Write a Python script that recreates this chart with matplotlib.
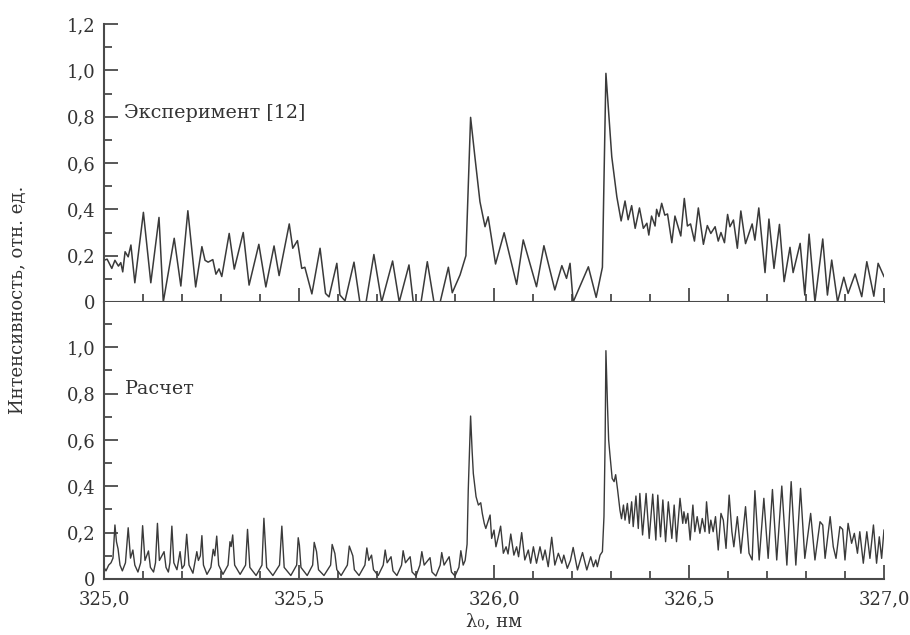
import matplotlib
matplotlib.use("Agg")
import matplotlib.pyplot as plt
from matplotlib.ticker import MultipleLocator, FuncFormatter

# Experimental spectrum (upper panel)
exp_x = [
    325.000, 325.008, 325.020, 325.028, 325.037, 325.043, 325.048, 325.054,
    325.062, 325.069, 325.079, 325.101, 325.120, 325.141, 325.152, 325.180,
    325.197, 325.215, 325.235, 325.251, 325.259, 325.267, 325.279, 325.287,
    325.295, 325.302, 325.321, 325.334, 325.357, 325.372, 325.397, 325.415,
    325.436, 325.449, 325.475, 325.484, 325.496, 325.507, 325.515, 325.533,
    325.554, 325.568, 325.577, 325.597, 325.605, 325.618, 325.641, 325.656,
    325.672, 325.692, 325.712, 325.740, 325.757, 325.782, 325.793, 325.813,
    325.829, 325.846, 325.862, 325.883, 325.893, 325.913, 325.928, 325.940,
    325.951, 325.964, 325.977, 325.985, 326.004, 326.026, 326.058, 326.075,
    326.109, 326.128, 326.156, 326.174, 326.186, 326.195, 326.203, 326.242,
    326.262, 326.278, 326.287, 326.302, 326.315, 326.326, 326.336, 326.344,
    326.353, 326.362, 326.373, 326.383, 326.392, 326.397, 326.404, 326.413,
    326.417, 326.423, 326.430, 326.438, 326.445, 326.456, 326.464, 326.479,
    326.488, 326.496, 326.504, 326.514, 326.524, 326.537, 326.547, 326.556,
    326.567, 326.575, 326.582, 326.591, 326.599, 326.605, 326.614, 326.624,
    326.633, 326.645, 326.662, 326.669, 326.679, 326.695, 326.705, 326.718,
    326.732, 326.744, 326.759, 326.767, 326.785, 326.797, 326.808, 326.823,
    326.843, 326.855, 326.866, 326.881, 326.897, 326.908, 326.926, 326.943,
    326.956, 326.974, 326.985, 327.000,
]
exp_y = [
    0.180, 0.185, 0.145, 0.180, 0.155, 0.170, 0.130, 0.217,
    0.195, 0.246, 0.083, 0.387, 0.083, 0.365, 0.000, 0.275,
    0.069, 0.394, 0.065, 0.239, 0.180, 0.172, 0.183, 0.120,
    0.143, 0.110, 0.296, 0.142, 0.300, 0.073, 0.249, 0.065,
    0.242, 0.114, 0.337, 0.232, 0.265, 0.145, 0.150, 0.035,
    0.232, 0.037, 0.022, 0.167, 0.030, 0.005, 0.172, 0.000,
    0.000, 0.205, 0.000, 0.177, 0.000, 0.160, 0.000, 0.000,
    0.174, 0.000, 0.000, 0.150, 0.040, 0.117, 0.200, 0.797,
    0.627, 0.433, 0.325, 0.368, 0.164, 0.299, 0.076, 0.268,
    0.066, 0.243, 0.052, 0.157, 0.102, 0.167, 0.000, 0.152,
    0.020, 0.150, 0.987, 0.627, 0.454, 0.350, 0.436, 0.355,
    0.416, 0.318, 0.406, 0.318, 0.340, 0.289, 0.371, 0.328,
    0.400, 0.369, 0.426, 0.375, 0.380, 0.256, 0.371, 0.285,
    0.447, 0.328, 0.337, 0.263, 0.406, 0.249, 0.330, 0.296,
    0.325, 0.263, 0.300, 0.256, 0.378, 0.325, 0.354, 0.232,
    0.393, 0.252, 0.337, 0.267, 0.406, 0.127, 0.358, 0.145,
    0.335, 0.088, 0.236, 0.127, 0.253, 0.030, 0.293, 0.000,
    0.272, 0.030, 0.181, 0.000, 0.107, 0.037, 0.121, 0.023,
    0.174, 0.025, 0.167, 0.110,
]

# Calculated spectrum (lower panel)
calc_x = [
    325.000, 325.005, 325.012, 325.018, 325.023, 325.028, 325.032, 325.036,
    325.041, 325.047, 325.055, 325.062, 325.068, 325.074, 325.079, 325.087,
    325.094, 325.099, 325.105, 325.114, 325.119, 325.127, 325.132, 325.137,
    325.142, 325.154, 325.159, 325.165, 325.169, 325.174, 325.179, 325.187,
    325.195, 325.200, 325.206, 325.212, 325.218, 325.228, 325.238, 325.242,
    325.247, 325.251, 325.255, 325.264, 325.274, 325.280, 325.284, 325.289,
    325.294, 325.305, 325.318, 325.323, 325.326, 325.330, 325.335, 325.349,
    325.363, 325.368, 325.374, 325.390, 325.405, 325.410, 325.417, 325.433,
    325.450, 325.456, 325.462, 325.479, 325.494, 325.498, 325.501, 325.505,
    325.521, 325.535, 325.539, 325.545, 325.550, 325.564, 325.581, 325.585,
    325.592, 325.597, 325.608, 325.624, 325.629, 325.638, 325.642, 325.654,
    325.669, 325.674, 325.679, 325.686, 325.691, 325.703, 325.716, 325.721,
    325.726, 325.736, 325.741, 325.751, 325.763, 325.767, 325.773, 325.785,
    325.790, 325.800, 325.810, 325.815, 325.821, 325.836, 325.841, 325.851,
    325.862, 325.866, 325.872, 325.885, 325.891, 325.900, 325.910, 325.915,
    325.921, 325.926, 325.931, 325.934, 325.940, 325.944, 325.947, 325.954,
    325.960, 325.966, 325.970, 325.975, 325.979, 325.985, 325.990, 325.994,
    326.000, 326.005, 326.011, 326.017, 326.024, 326.031, 326.036, 326.043,
    326.051, 326.058, 326.063, 326.071, 326.079, 326.088, 326.094, 326.101,
    326.109, 326.118, 326.125, 326.131, 326.139, 326.148, 326.156, 326.165,
    326.174, 326.179, 326.188, 326.196, 326.203, 326.214, 326.227, 326.238,
    326.248, 326.255, 326.261, 326.265, 326.272, 326.278, 326.282, 326.285,
    326.287, 326.291, 326.294, 326.297, 326.303, 326.308, 326.312, 326.317,
    326.321, 326.323, 326.327, 326.332, 326.336, 326.342, 326.347, 326.353,
    326.357, 326.364, 326.370, 326.374, 326.381, 326.390, 326.398, 326.407,
    326.415, 326.420, 326.427, 326.433, 326.440, 326.447, 326.456, 326.462,
    326.468, 326.477, 326.484, 326.487, 326.492, 326.497, 326.503, 326.510,
    326.515, 326.521, 326.528, 326.534, 326.541, 326.545, 326.552, 326.556,
    326.562, 326.568, 326.575, 326.582, 326.588, 326.595, 326.603, 326.610,
    326.615, 326.624, 326.633, 326.645, 326.654, 326.662, 326.669, 326.680,
    326.692, 326.703, 326.714, 326.725, 326.738, 326.751, 326.762, 326.774,
    326.786, 326.797, 326.812, 326.823, 326.836, 326.843, 326.849, 326.862,
    326.870, 326.877, 326.887, 326.894, 326.900, 326.908, 326.917, 326.924,
    326.932, 326.938, 326.947, 326.956, 326.964, 326.973, 326.981, 326.988,
    326.994, 327.000,
]
calc_y = [
    0.050, 0.035, 0.060, 0.070, 0.090, 0.233, 0.160, 0.130,
    0.060, 0.035, 0.070, 0.221, 0.090, 0.125, 0.060, 0.030,
    0.070, 0.230, 0.080, 0.121, 0.050, 0.030, 0.070, 0.240,
    0.080, 0.118, 0.050, 0.030, 0.070, 0.228, 0.070, 0.040,
    0.118, 0.045, 0.060, 0.193, 0.060, 0.025, 0.118, 0.080,
    0.100, 0.187, 0.060, 0.020, 0.050, 0.128, 0.100, 0.185,
    0.060, 0.020, 0.060, 0.161, 0.140, 0.190, 0.060, 0.020,
    0.060, 0.214, 0.050, 0.015, 0.060, 0.262, 0.050, 0.015,
    0.060, 0.228, 0.050, 0.015, 0.060, 0.178, 0.146, 0.050,
    0.015, 0.060, 0.158, 0.118, 0.040, 0.015, 0.060, 0.149,
    0.110, 0.040, 0.015, 0.060, 0.142, 0.100, 0.040, 0.015,
    0.060, 0.134, 0.080, 0.103, 0.040, 0.015, 0.060, 0.125,
    0.070, 0.096, 0.035, 0.015, 0.060, 0.122, 0.070, 0.096,
    0.030, 0.013, 0.060, 0.118, 0.060, 0.092, 0.030, 0.013,
    0.060, 0.114, 0.060, 0.096, 0.030, 0.013, 0.050, 0.122,
    0.060, 0.080, 0.150, 0.384, 0.703, 0.550, 0.455, 0.355,
    0.319, 0.329, 0.283, 0.240, 0.218, 0.250, 0.276, 0.175,
    0.211, 0.139, 0.182, 0.228, 0.111, 0.139, 0.108, 0.194,
    0.103, 0.139, 0.096, 0.200, 0.082, 0.125, 0.068, 0.139,
    0.068, 0.139, 0.082, 0.125, 0.053, 0.180, 0.060, 0.111,
    0.068, 0.103, 0.046, 0.080, 0.136, 0.039, 0.114, 0.039,
    0.096, 0.053, 0.082, 0.053, 0.103, 0.118, 0.269, 0.600,
    0.985, 0.750, 0.600, 0.542, 0.434, 0.420, 0.450, 0.384,
    0.326, 0.297, 0.260, 0.319, 0.254, 0.326, 0.240, 0.333,
    0.226, 0.358, 0.218, 0.369, 0.190, 0.369, 0.175, 0.366,
    0.168, 0.362, 0.182, 0.341, 0.161, 0.333, 0.175, 0.319,
    0.161, 0.348, 0.240, 0.290, 0.240, 0.283, 0.168, 0.319,
    0.204, 0.269, 0.197, 0.261, 0.204, 0.333, 0.197, 0.254,
    0.204, 0.269, 0.125, 0.283, 0.254, 0.132, 0.362, 0.204,
    0.139, 0.269, 0.111, 0.312, 0.111, 0.082, 0.381, 0.082,
    0.348, 0.089, 0.386, 0.082, 0.401, 0.060, 0.420, 0.060,
    0.391, 0.089, 0.283, 0.082, 0.247, 0.233, 0.089, 0.269,
    0.139, 0.089, 0.226, 0.214, 0.082, 0.240, 0.154, 0.197,
    0.111, 0.204, 0.068, 0.204, 0.089, 0.233, 0.068, 0.182,
    0.089, 0.211,
]

panel_labels = ["Эксперимент [12]", "Расчет"]
x_label = "λ₀, нм"
y_label = "Интенсивность, отн. ед."

plt.rcParams["font.family"] = ["DejaVu Serif"]
plt.rcParams["font.size"] = 13

line_color = "#3a3a3a"
axis_color = "#4a4a4a"
text_color = "#333333"


def comma_fmt(v, pos):
    if abs(v) < 1e-9:
        return "0"
    return f"{v:.1f}".replace(".", ",")


def style_axes(ax):
    for side in ("top", "right"):
        ax.spines[side].set_visible(False)
    for side in ("left", "bottom"):
        ax.spines[side].set_linewidth(1.5)
        ax.spines[side].set_color(axis_color)
    ax.set_xlim(325.0, 327.0)
    ax.xaxis.set_major_locator(MultipleLocator(0.5))
    ax.xaxis.set_minor_locator(MultipleLocator(0.1))
    ax.yaxis.set_major_locator(MultipleLocator(0.2))
    ax.yaxis.set_minor_locator(MultipleLocator(0.1))
    ax.yaxis.set_major_formatter(FuncFormatter(comma_fmt))
    ax.xaxis.set_major_formatter(FuncFormatter(comma_fmt))
    ax.tick_params(which="both", direction="in", color=axis_color, width=1.3,
                   labelcolor=text_color)
    ax.tick_params(which="major", length=10)
    ax.tick_params(which="minor", length=6)
    ax.tick_params(axis="y", pad=6)
    ax.tick_params(axis="x", pad=8)


fig = plt.figure(figsize=(9.1, 6.35), dpi=100)
ax_top = fig.add_axes([0.1143, 0.5244, 0.8571, 0.4378])
ax_bot = fig.add_axes([0.1143, 0.0882, 0.8571, 0.4362])

ax_top.plot(exp_x, exp_y, color=line_color, linewidth=1.1)
style_axes(ax_top)
ax_top.set_ylim(0, 1.2)
ax_top.tick_params(axis="x", labelbottom=False)
ax_top.text(325.05, 0.815, panel_labels[0], va="center", ha="left",
            color=text_color, fontsize=13.8)

ax_bot.plot(calc_x, calc_y, color=line_color, linewidth=1.0)
style_axes(ax_bot)
ax_bot.set_ylim(0, 1.195)
ax_bot.text(325.054, 0.82, panel_labels[1], va="center", ha="left",
            color=text_color, fontsize=13.8)
ax_bot.set_xlabel(x_label, labelpad=3, color=text_color)

fig.text(0.02, 1 - 300 / 635, y_label, rotation=90, va="center", ha="center",
         color=text_color)

fig.savefig("out.png", dpi=100)
